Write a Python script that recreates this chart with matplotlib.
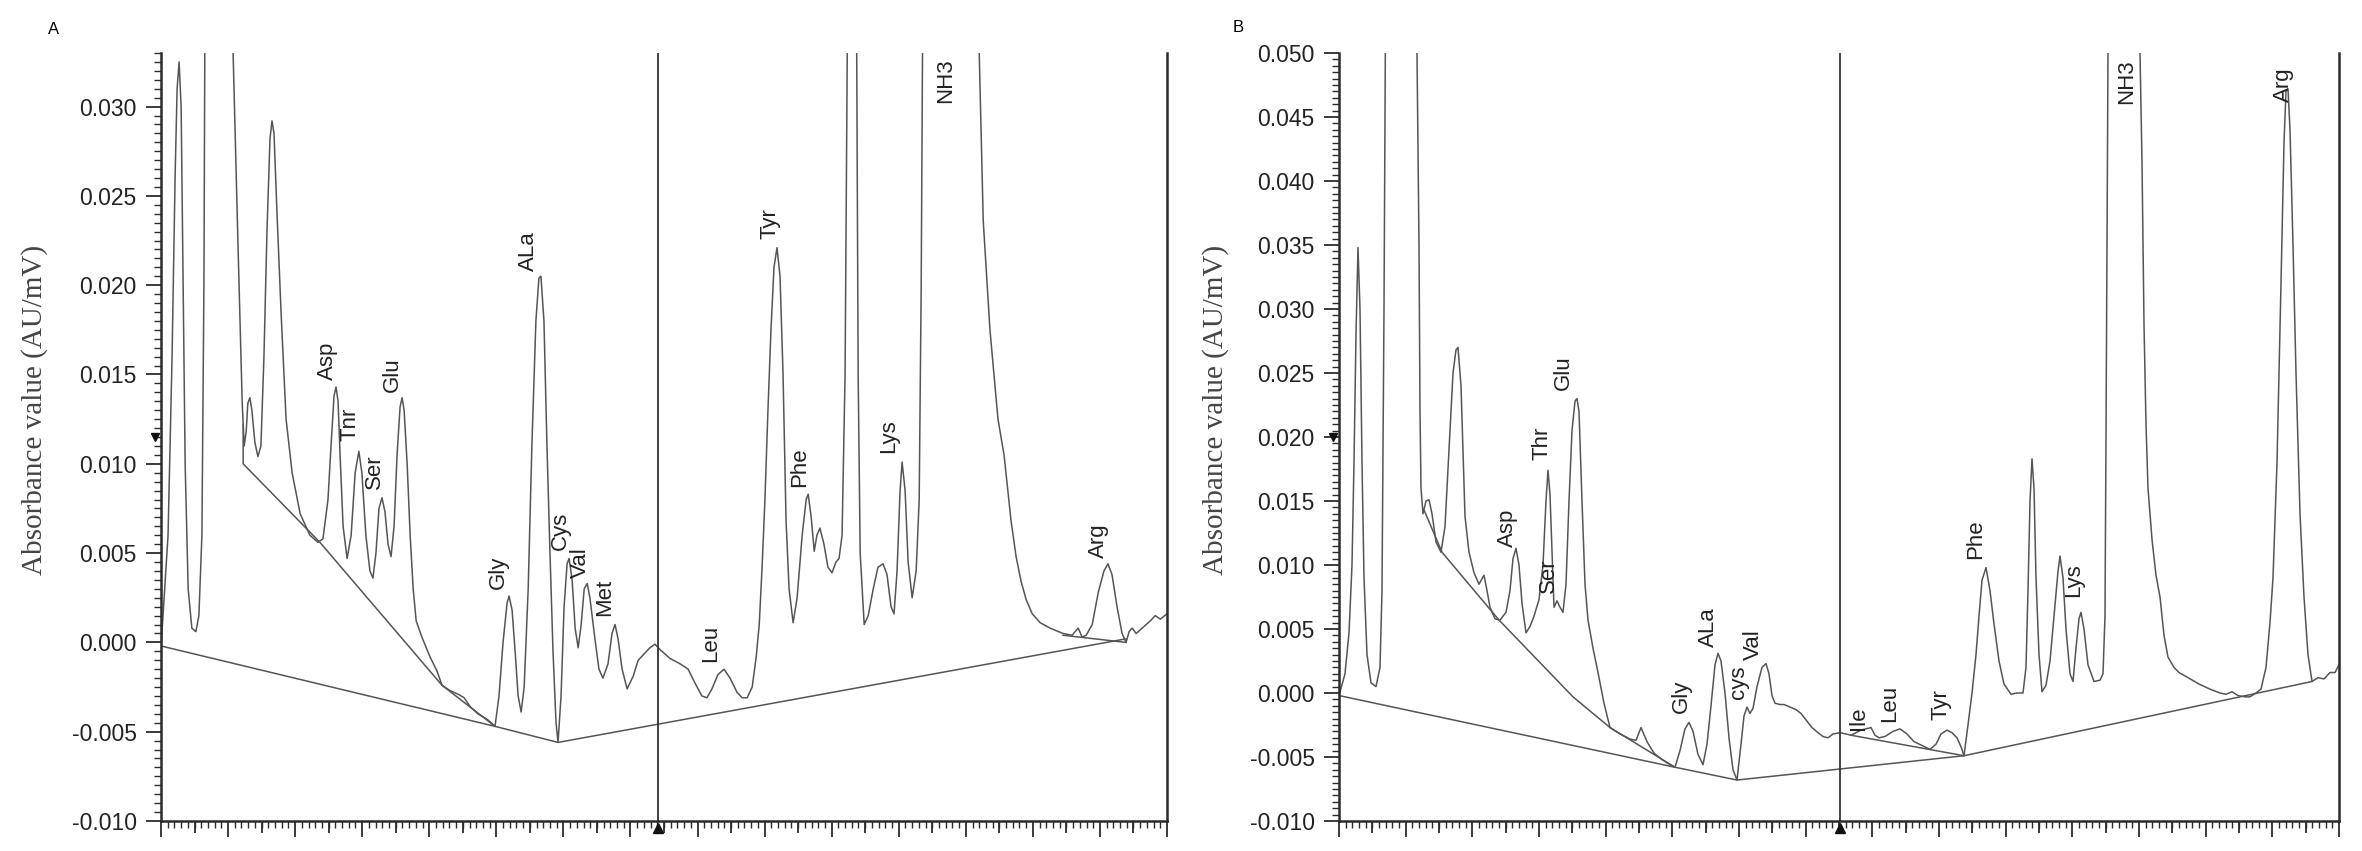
import numpy as np
import matplotlib.pyplot as plt
from matplotlib.ticker import MultipleLocator, FuncFormatter
from matplotlib.transforms import offset_copy

plt.rcParams['font.family'] = ['Liberation Sans', 'DejaVu Sans']

# ---- panel A: retention time (min) / absorbance ----
a_time = [0.00, 0.06, 0.21, 0.33, 0.42, 0.48, 0.54, 0.60, 0.66, 0.72,
          0.81, 0.92, 1.04, 1.13, 1.22, 1.28, 1.34, 1.52, 2.00, 2.15,
          2.30, 2.42, 2.48, 2.54, 2.59, 2.65, 2.71, 2.80, 2.89, 2.98,
          3.07, 3.16, 3.25, 3.31, 3.37, 3.46, 3.58, 3.73, 3.91, 4.15,
          4.44, 4.68, 4.83, 4.98, 5.07, 5.16, 5.22, 5.28, 5.34, 5.43,
          5.55, 5.67, 5.79, 5.90, 5.99, 6.11, 6.23, 6.32, 6.41, 6.50,
          6.59, 6.68, 6.77, 6.86, 6.95, 7.04, 7.13, 7.19, 7.25, 7.34,
          7.43, 7.52, 7.61, 7.78, 8.02, 8.23, 8.38, 8.62, 8.86, 9.04,
          9.22, 9.45, 9.72, 9.96, 10.08, 10.20, 10.32, 10.38, 10.47, 10.56,
          10.65, 10.74, 10.83, 10.95, 11.06, 11.18, 11.27, 11.33, 11.42, 11.51,
          11.60, 11.69, 11.78, 11.84, 11.93, 12.02, 12.11, 12.17, 12.26, 12.35,
          12.44, 12.53, 12.62, 12.71, 12.79, 12.94, 13.06, 13.18, 13.33, 13.45,
          13.54, 13.63, 13.75, 13.90, 14.08, 14.23, 14.38, 14.58, 14.73, 14.88,
          15.18, 15.48, 15.72, 15.93, 16.13, 16.28, 16.43, 16.61, 16.79, 16.97,
          17.18, 17.33, 17.48, 17.63, 17.75, 17.84, 17.92, 18.01, 18.10, 18.19,
          18.28, 18.37, 18.46, 18.55, 18.64, 18.73, 18.85, 18.97, 19.12, 19.24,
          19.30, 19.39, 19.48, 19.56, 19.65, 19.77, 19.89, 20.01, 20.13, 20.22,
          20.31, 20.40, 20.49, 20.61, 20.73, 20.79, 20.85, 20.97, 21.09, 21.24,
          21.38, 21.53, 21.65, 21.77, 21.86, 21.95, 22.04, 22.10, 22.19, 22.28,
          22.40, 22.52, 22.61, 22.67, 22.73, 22.82, 23.53, 24.28, 24.40, 24.52,
          24.72, 24.96, 25.14, 25.35, 25.50, 25.65, 25.80, 25.98, 26.22, 26.51,
          26.90, 27.17, 27.35, 27.47, 27.59, 27.77, 27.95, 28.12, 28.24, 28.36,
          28.51, 28.66, 28.78, 28.87, 28.96, 29.08, 29.26, 29.50, 29.65, 29.80,
          30.00]
a_signal = [-0.0002, 0.0015, 0.0060, 0.0160, 0.0260, 0.0310, 0.0325, 0.0300, 0.0200, 0.0100,
            0.0030, 0.0008, 0.0006, 0.0015, 0.0060, 0.0200, 0.0500, 0.0600, 0.0450, 0.0330,
            0.0220, 0.0135, 0.0110, 0.0118, 0.0134, 0.0137, 0.0130, 0.0112, 0.0104, 0.0110,
            0.0160, 0.0230, 0.0282, 0.0292, 0.0285, 0.0240, 0.0185, 0.0125, 0.0095, 0.0072,
            0.0060, 0.0056, 0.0058, 0.0080, 0.0110, 0.0138, 0.0143, 0.0135, 0.0105, 0.0065,
            0.0047, 0.0060, 0.0095, 0.0107, 0.0095, 0.0060, 0.0040, 0.0036, 0.0050, 0.0075,
            0.0081, 0.0073, 0.0055, 0.0048, 0.0065, 0.0105, 0.0132, 0.0137, 0.0130, 0.0100,
            0.0060, 0.0030, 0.0012, 0.0003, -0.0008, -0.0016, -0.0024, -0.0027, -0.0029, -0.0031,
            -0.0036, -0.0040, -0.0043, -0.0047, -0.0030, 0.0000, 0.0022, 0.0026, 0.0018, -0.0005,
            -0.0030, -0.0039, -0.0025, 0.0030, 0.0110, 0.0180, 0.0204, 0.0205, 0.0180, 0.0110,
            0.0050, -0.0005, -0.0045, -0.0056, -0.0030, 0.0020, 0.0044, 0.0047, 0.0035, 0.0008,
            -0.0003, 0.0010, 0.0030, 0.0033, 0.0025, 0.0002, -0.0015, -0.0020, -0.0012, 0.0005,
            0.0010, 0.0002, -0.0015, -0.0026, -0.0019, -0.0010, -0.0007, -0.0003, -0.0001, -0.0004,
            -0.0009, -0.0012, -0.0015, -0.0023, -0.0030, -0.0031, -0.0026, -0.0018, -0.0015, -0.0020,
            -0.0028, -0.0031, -0.0031, -0.0025, -0.0008, 0.0010, 0.0040, 0.0080, 0.0130, 0.0175,
            0.0210, 0.0221, 0.0205, 0.0150, 0.0068, 0.0030, 0.0011, 0.0025, 0.0060, 0.0080,
            0.0083, 0.0070, 0.0051, 0.0060, 0.0064, 0.0055, 0.0042, 0.0039, 0.0045, 0.0047,
            0.0060, 0.0150, 0.0400, 0.0600, 0.0400, 0.0150, 0.0050, 0.0010, 0.0015, 0.0030,
            0.0042, 0.0044, 0.0038, 0.0020, 0.0016, 0.0040, 0.0085, 0.0101, 0.0085, 0.0045,
            0.0025, 0.0040, 0.0080, 0.0200, 0.0400, 0.0700, 0.0800, 0.0600, 0.0330, 0.0236,
            0.0175, 0.0125, 0.0105, 0.0068, 0.0048, 0.0034, 0.0024, 0.0016, 0.0011, 0.0008,
            0.0005, 0.0004, 0.0008, 0.0003, 0.0004, 0.0010, 0.0028, 0.0040, 0.0044, 0.0038,
            0.0020, 0.0005, 0.0000, 0.0006, 0.0008, 0.0005, 0.0008, 0.0012, 0.0015, 0.0013,
            0.0016]

# integration baselines A
a_base_main_t = [0.00, 9.96, 11.84, 28.78]
a_base_main_y = [-0.0002, -0.0047, -0.0056, 0.0002]
a_base_side_t = [2.45, 2.45, 4.74, 8.38, 9.96]
a_base_side_y = [0.0122, 0.0100, 0.0056, -0.0024, -0.0047]
a_base_arg_t = [26.90, 28.78]
a_base_arg_y = [0.0004, 0.0000]

a_names = ['Asp', 'Tnr', 'Ser', 'Glu', 'Gly', 'ALa', 'Cys', 'Val', 'Met',
           'Leu', 'Tyr', 'Phe', 'Lys', 'NH3', 'Arg']
a_name_x = [4.95, 5.64, 6.38, 6.89, 10.05, 10.95, 11.90, 12.50, 13.24,
            16.40, 18.16, 19.03, 21.71, 23.41, 27.97]
a_name_y = [0.0147, 0.0113, 0.0086, 0.0140, 0.0030, 0.0208, 0.0052, 0.0036, 0.0015,
            -0.0011, 0.0226, 0.0087, 0.0106, 0.0302, 0.0047]

# ---- panel B ----
b_time = [0.00, 0.18, 0.30, 0.39, 0.45, 0.51, 0.57, 0.63, 0.69, 0.75,
          0.84, 0.96, 1.11, 1.23, 1.29, 1.35, 1.41, 1.83, 2.28, 2.34,
          2.40, 2.43, 2.46, 2.52, 2.61, 2.70, 2.79, 2.91, 3.06, 3.18,
          3.30, 3.42, 3.51, 3.57, 3.66, 3.78, 3.90, 4.05, 4.20, 4.35,
          4.44, 4.53, 4.68, 4.83, 5.01, 5.13, 5.22, 5.31, 5.40, 5.49,
          5.61, 5.73, 5.85, 6.00, 6.12, 6.21, 6.27, 6.33, 6.39, 6.45,
          6.54, 6.63, 6.72, 6.81, 6.90, 6.99, 7.08, 7.14, 7.20, 7.29,
          7.38, 7.47, 7.62, 7.77, 7.95, 8.13, 8.43, 8.73, 8.91, 9.06,
          9.24, 9.45, 9.69, 9.93, 10.08, 10.23, 10.38, 10.50, 10.62, 10.77,
          10.92, 11.04, 11.16, 11.28, 11.37, 11.46, 11.58, 11.70, 11.82, 11.94,
          12.06, 12.15, 12.24, 12.33, 12.42, 12.54, 12.69, 12.81, 12.90, 12.99,
          13.08, 13.23, 13.35, 13.53, 13.71, 13.86, 14.01, 14.19, 14.37, 14.52,
          14.67, 14.82, 15.03, 15.21, 15.36, 15.51, 15.66, 15.81, 15.96, 16.08,
          16.20, 16.38, 16.62, 16.83, 17.04, 17.25, 17.49, 17.73, 17.91, 18.06,
          18.24, 18.39, 18.54, 18.66, 18.75, 18.87, 18.99, 19.11, 19.20, 19.29,
          19.41, 19.53, 19.65, 19.80, 19.95, 20.16, 20.34, 20.52, 20.61, 20.67,
          20.73, 20.79, 20.85, 20.91, 21.00, 21.09, 21.21, 21.33, 21.45, 21.57,
          21.63, 21.72, 21.81, 21.93, 22.02, 22.11, 22.20, 22.26, 22.35, 22.47,
          22.65, 22.83, 22.92, 22.98, 23.01, 23.07, 23.13, 23.58, 23.97, 24.03,
          24.09, 24.15, 24.21, 24.27, 24.39, 24.51, 24.63, 24.75, 24.87, 25.05,
          25.20, 25.47, 25.80, 26.13, 26.43, 26.61, 26.79, 26.97, 27.18, 27.33,
          27.51, 27.66, 27.81, 27.93, 28.02, 28.14, 28.26, 28.35, 28.41, 28.47,
          28.53, 28.62, 28.71, 28.83, 28.95, 29.07, 29.19, 29.37, 29.55, 29.73,
          29.88, 30.00]
b_signal = [-0.0002, 0.0015, 0.0047, 0.0100, 0.0180, 0.0280, 0.0348, 0.0300, 0.0180, 0.0090,
            0.0030, 0.0008, 0.0005, 0.0020, 0.0080, 0.0300, 0.0600, 0.0800, 0.0600, 0.0500,
            0.0350, 0.0220, 0.0160, 0.0140, 0.0150, 0.0151, 0.0140, 0.0118, 0.0110, 0.0130,
            0.0190, 0.0250, 0.0268, 0.0270, 0.0240, 0.0138, 0.0110, 0.0094, 0.0085, 0.0092,
            0.0080, 0.0067, 0.0058, 0.0057, 0.0063, 0.0080, 0.0105, 0.0113, 0.0100, 0.0070,
            0.0047, 0.0052, 0.0060, 0.0073, 0.0100, 0.0150, 0.0174, 0.0155, 0.0110, 0.0067,
            0.0072, 0.0067, 0.0063, 0.0085, 0.0150, 0.0205, 0.0228, 0.0230, 0.0220, 0.0150,
            0.0085, 0.0057, 0.0035, 0.0016, -0.0008, -0.0027, -0.0032, -0.0036, -0.0037, -0.0027,
            -0.0038, -0.0047, -0.0052, -0.0056, -0.0058, -0.0045, -0.0028, -0.0023, -0.0030, -0.0048,
            -0.0056, -0.0040, -0.0010, 0.0022, 0.0031, 0.0025, 0.0000, -0.0035, -0.0060, -0.0068,
            -0.0040, -0.0018, -0.0011, -0.0016, -0.0012, 0.0005, 0.0020, 0.0023, 0.0015, -0.0002,
            -0.0008, -0.0009, -0.0009, -0.0011, -0.0013, -0.0016, -0.0021, -0.0027, -0.0031, -0.0034,
            -0.0035, -0.0032, -0.0031, -0.0032, -0.0033, -0.0031, -0.0029, -0.0028, -0.0027, -0.0033,
            -0.0035, -0.0034, -0.0030, -0.0028, -0.0032, -0.0038, -0.0041, -0.0044, -0.0040, -0.0032,
            -0.0029, -0.0031, -0.0035, -0.0042, -0.0049, -0.0025, 0.0000, 0.0030, 0.0060, 0.0088,
            0.0098, 0.0080, 0.0054, 0.0025, 0.0007, -0.0001, 0.0000, 0.0000, 0.0020, 0.0080,
            0.0150, 0.0183, 0.0160, 0.0090, 0.0030, 0.0001, 0.0006, 0.0025, 0.0060, 0.0095,
            0.0107, 0.0090, 0.0050, 0.0015, 0.0009, 0.0035, 0.0058, 0.0063, 0.0050, 0.0022,
            0.0009, 0.0010, 0.0015, 0.0060, 0.0200, 0.0500, 0.0700, 0.0900, 0.0700, 0.0500,
            0.0415, 0.0288, 0.0210, 0.0160, 0.0120, 0.0092, 0.0075, 0.0045, 0.0028, 0.0020,
            0.0016, 0.0012, 0.0007, 0.0003, 0.0000, -0.0001, 0.0001, -0.0002, -0.0003, -0.0003,
            0.0000, 0.0003, 0.0020, 0.0055, 0.0090, 0.0180, 0.0320, 0.0430, 0.0470, 0.0472,
            0.0440, 0.0350, 0.0250, 0.0140, 0.0075, 0.0030, 0.0009, 0.0012, 0.0011, 0.0016,
            0.0016, 0.0022]

b_base_main_t = [0.00, 10.08, 11.94, 18.75, 29.19]
b_base_main_y = [-0.0002, -0.0058, -0.0068, -0.0049, 0.0009]
b_base_side_t = [2.55, 3.09, 4.80, 7.02, 8.13, 10.08]
b_base_side_y = [0.0143, 0.0110, 0.0057, -0.0003, -0.0027, -0.0058]
b_base_ile_t = [15.36, 18.75]
b_base_ile_y = [-0.0033, -0.0049]

b_names = ['Asp', 'Thr', 'Ser', 'Glu', 'Gly', 'ALa', 'cys', 'Val',
           'Ile', 'Leu', 'Tyr', 'Phe', 'Lys', 'NH3', 'Arg']
b_name_x = [5.04, 6.09, 6.27, 6.72, 10.26, 11.07, 12.00, 12.42,
            15.60, 16.53, 18.06, 19.11, 22.05, 23.64, 28.32]
b_name_y = [0.0114, 0.0182, 0.0078, 0.0237, -0.0016, 0.0036, -0.0005, 0.0026,
            -0.0029, -0.0023, -0.0021, 0.0105, 0.0075, 0.0460, 0.0462]

TRACE = '#555555'
AXC = '#2b2b2b'


def draw_panel(ax, t, s, baselines, names, nx, ny, ylim, cursor_x, marker_y):
    ax.plot(t, s, color=TRACE, lw=1.1)
    for bt, by in baselines:
        ax.plot(bt, by, color=TRACE, lw=1.1)
    ax.axvline(cursor_x, color='#333333', lw=1.3)
    for name, x, y in zip(names, nx, ny):
        ax.text(x, y, name, rotation=90, ha='center', va='bottom',
                fontsize=16, color='#222222')

    ax.set_xlim(0, 30)
    ax.set_ylim(*ylim)
    ax.spines['top'].set_visible(False)
    for side in ['left', 'bottom', 'right']:
        ax.spines[side].set_linewidth(1.8)
        ax.spines[side].set_color(AXC)

    ax.xaxis.set_major_locator(MultipleLocator(2))
    ax.xaxis.set_minor_locator(MultipleLocator(0.2))
    ax.tick_params(axis='x', which='major', length=11.5, width=1.3,
                   color=AXC, labelbottom=False)
    ax.tick_params(axis='x', which='minor', length=5, width=1.0, color=AXC)
    sec = ax.secondary_xaxis('bottom')
    sec.set_xticks(np.arange(1, 30, 2))
    sec.tick_params(length=8.5, width=1.3, color=AXC, labelbottom=False)
    sec.spines['bottom'].set_visible(False)

    ax.yaxis.set_major_locator(MultipleLocator(0.005))
    ax.yaxis.set_minor_locator(MultipleLocator(0.0005))
    ax.yaxis.set_major_formatter(FuncFormatter(lambda v, p: f"{round(v, 3) + 0:.3f}"))
    ax.tick_params(axis='y', which='major', length=10.5, width=1.3, color=AXC,
                   pad=7, labelsize=16.5, labelcolor='#222222')
    ax.tick_params(axis='y', which='minor', length=5, width=1.0, color=AXC)

    # cursor markers
    ax.plot([cursor_x], [ylim[0]], marker='^', ms=7, color='#111111', clip_on=False,
            transform=offset_copy(ax.transData, fig=ax.figure, y=-7, units='dots'))
    ax.plot([0], [marker_y], marker='v', ms=6, color='#111111', clip_on=False,
            transform=offset_copy(ax.transData, fig=ax.figure, x=-6, units='dots'))


fig = plt.figure(figsize=(23.62, 8.51), dpi=100)
ax_a = fig.add_axes([161 / 2362, 30 / 851, 1006 / 2362, 768 / 851])
ax_b = fig.add_axes([1339 / 2362, 30 / 851, 1000 / 2362, 768 / 851])

draw_panel(ax_a, a_time, a_signal,
           [(a_base_main_t, a_base_main_y), (a_base_side_t, a_base_side_y),
            (a_base_arg_t, a_base_arg_y)],
           a_names, a_name_x, a_name_y, (-0.010, 0.033), 14.82, 0.0115)
draw_panel(ax_b, b_time, b_signal,
           [(b_base_main_t, b_base_main_y), (b_base_side_t, b_base_side_y),
            (b_base_ile_t, b_base_ile_y)],
           b_names, b_name_x, b_name_y, (-0.010, 0.050), 15.03, 0.020)

for xf, txt in [(35 / 2362, 'Absorbance value (AU/mV)'), (1216 / 2362, 'Absorbance value (AU/mV)')]:
    fig.text(xf, 1 - 410 / 851, txt, rotation=90, ha='center', va='center',
             fontsize=21, family=['Liberation Serif', 'DejaVu Serif'], color='#444444')

fig.text(54 / 2362, 1 - 30 / 851, 'A', fontsize=12, ha='center', va='center')
fig.text(1238 / 2362, 1 - 27 / 851, 'B', fontsize=12, ha='center', va='center')

fig.savefig('out.png', dpi=100)
